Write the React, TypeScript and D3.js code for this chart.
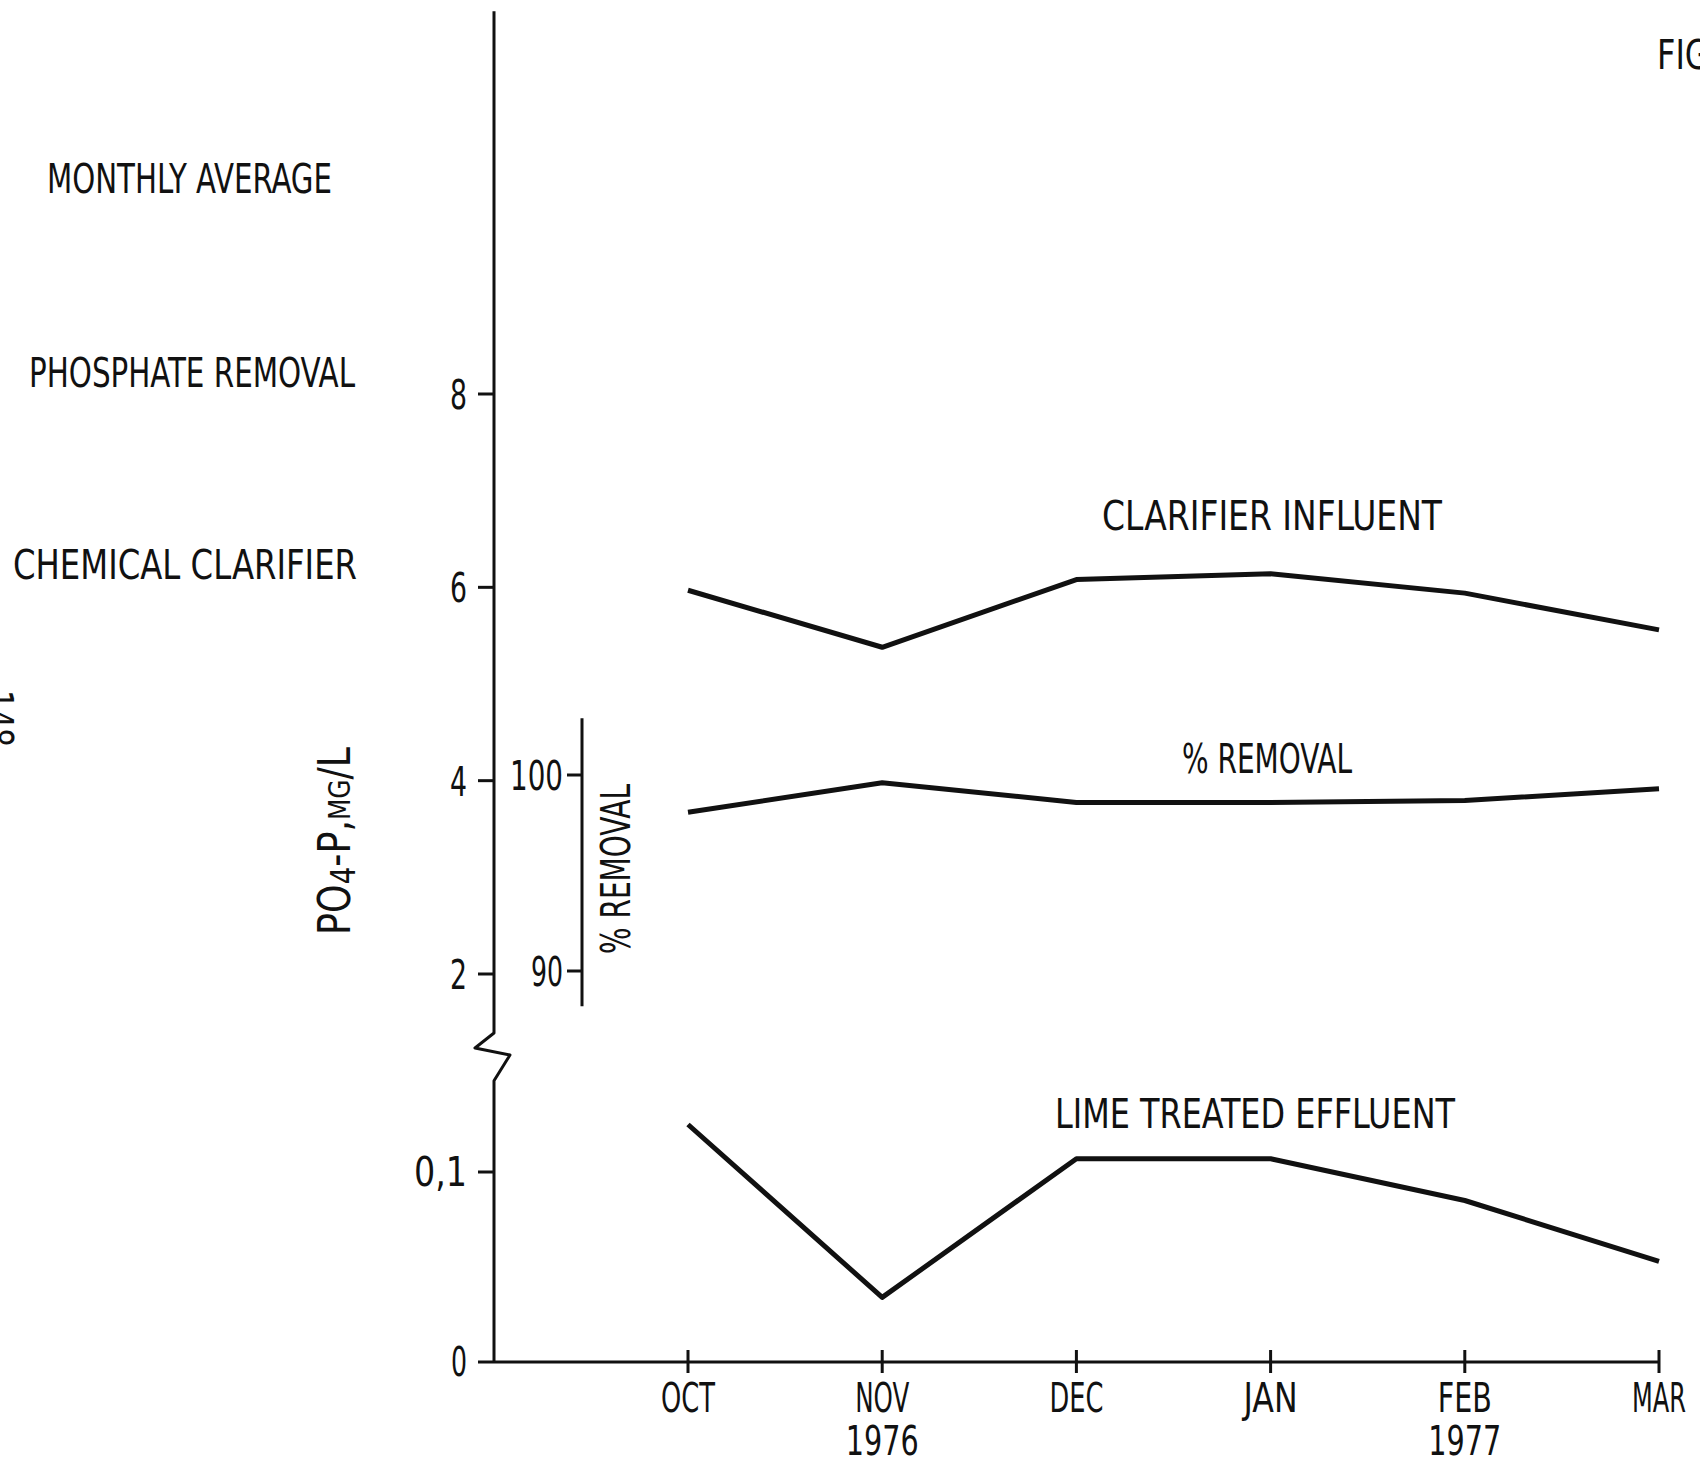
import React from 'react';
import * as d3 from 'd3';

// monthly averages
const months = ['OCT', 'NOV', 'DEC', 'JAN', 'FEB', 'MAR'];
const years = ['', '1976', '', '', '1977', ''];
const influent = [5.97, 5.38, 6.08, 6.14, 5.94, 5.56];
const removal = [98.1, 99.6, 98.6, 98.6, 98.7, 99.3];
const effluent = [0.125, 0.034, 0.107, 0.107, 0.085, 0.053];

const upperTicks = [2, 4, 6, 8];
const pctTicks = [90, 100];
const lowerTicks = [0, 0.1];

const titleLines = ['MONTHLY AVERAGE', 'PHOSPHATE REMOVAL', 'CHEMICAL CLARIFIER'];

const FONT = '"Liberation Sans Narrow", "DejaVu Sans Condensed", "DejaVu Sans", sans-serif';
const INK = '#111';
const PITCH = 19;

const len = (s: string) => s.length * PITCH - 3;

const T: React.FC<{ x: number; y: number; s: string; anchor?: string; w?: number; size?: number; transform?: string }> = ({ x, y, s, anchor = 'start', w, size = 40, transform }) => (
    <text x={x} y={y} textAnchor={anchor} fontSize={size} fontFamily={FONT} fill={INK}
        textLength={w ?? len(s)} lengthAdjust="spacingAndGlyphs" transform={transform}>{s}</text>
);

const App: React.FC = () => {
    const axisX = 494;

    const x = d3.scalePoint<string>().domain(months).range([688, 1659]);
    const yUp = d3.scaleLinear().domain([2, 8]).range([974, 394]);
    const yPct = d3.scaleLinear().domain([90, 100]).range([971, 775]);
    const yLow = d3.scaleLinear().domain([0, 0.1]).range([1362, 1172]);

    const upTop = yUp(11.96);
    const upBottom = yUp(1.39);
    const lowTop = yLow(0.148);
    const pctTop = yPct(102.9);
    const pctBottom = yPct(88.2);
    const pctX = 582;

    const mk = (vals: number[], sc: d3.ScaleLinear<number, number>) =>
        d3.line<number>().x((_, i) => x(months[i])!).y(d => sc(d))(vals) || '';

    // axis with the break zig-zag between upper and lower scale
    const axisPath = d3.line()([
        [axisX, upTop],
        [axisX, upBottom],
        [axisX - 19, upBottom + 15],
        [axisX + 16, upBottom + 22],
        [axisX, lowTop],
        [axisX, yLow(0)],
    ]) || '';

    const fmtLow = (d: number) => (d === 0 ? '0' : String(d).replace('.', ','));

    return (
        <svg width={1700} height={1463} style={{ position: 'absolute', left: 0, top: 0, background: '#fff' }}>
            {/* page titles */}
            {titleLines.map((s, i) => (
                <T key={s} x={[47, 29, 13][i]} y={[193, 387, 579][i]} s={s}
                    w={[285, 326, 344][i]} />
            ))}
            <T x={1657} y={69} s="FIGURE 6" />
            <T x={0} y={0} s="148" w={57} transform="translate(-16,690) rotate(90)" />

            {/* main y axis */}
            <path d={axisPath} fill="none" stroke={INK} strokeWidth={3} strokeLinejoin="round" />
            {upperTicks.map(t => (
                <g key={t}>
                    <line x1={axisX - 16} x2={axisX} y1={yUp(t)} y2={yUp(t)} stroke={INK} strokeWidth={3} />
                    <T x={467} y={yUp(t) + 15} s={String(t)} anchor="end" w={17} />
                </g>
            ))}
            {lowerTicks.map(t => (
                <g key={t}>
                    {t !== 0 && <line x1={axisX - 16} x2={axisX} y1={yLow(t)} y2={yLow(t)} stroke={INK} strokeWidth={3} />}
                    <T x={467} y={yLow(t) + 14} s={fmtLow(t)} anchor="end" w={fmtLow(t).length === 1 ? 16 : 53} />
                </g>
            ))}

            {/* y axis title */}
            <text transform="translate(350,935) rotate(-90)" fontSize={44} fontFamily={FONT} fill={INK}
                textLength={188} lengthAdjust="spacingAndGlyphs">
                PO<tspan fontSize={34} dy={5}>4</tspan><tspan dy={-5}>-P,</tspan><tspan fontSize={30}>MG</tspan>/L
            </text>

            {/* % removal axis */}
            <line x1={pctX} x2={pctX} y1={pctTop} y2={pctBottom} stroke={INK} strokeWidth={3} />
            {pctTicks.map(t => (
                <g key={t}>
                    <line x1={pctX - 15} x2={pctX} y1={yPct(t)} y2={yPct(t)} stroke={INK} strokeWidth={3} />
                    <T x={563} y={yPct(t) + 15} s={String(t)} anchor="end" w={String(t).length === 2 ? 32 : 53} />
                </g>
            ))}
            <T x={0} y={0} s="% REMOVAL" w={170} transform="translate(630,954) rotate(-90)" />

            {/* x axis */}
            <line x1={axisX - 16} x2={x('MAR')!} y1={yLow(0)} y2={yLow(0)} stroke={INK} strokeWidth={3} />
            {months.map((m, i) => (
                <g key={m}>
                    <line x1={x(m)!} x2={x(m)!} y1={yLow(0) - 12} y2={yLow(0) + 11} stroke={INK} strokeWidth={3} />
                    <T x={x(m)!} y={1412} s={m} anchor="middle" />
                    {years[i] && <T x={x(m)!} y={1455} s={years[i]} anchor="middle" />}
                </g>
            ))}

            {/* series */}
            <path d={mk(influent, yUp)} fill="none" stroke={INK} strokeWidth={5} strokeLinejoin="round" />
            <path d={mk(removal, yPct)} fill="none" stroke={INK} strokeWidth={5} strokeLinejoin="round" />
            <path d={mk(effluent, yLow)} fill="none" stroke={INK} strokeWidth={5} strokeLinejoin="round" />

            <T x={1102} y={530} s="CLARIFIER INFLUENT" w={340} />
            <T x={1182} y={773} s="% REMOVAL" w={170} />
            <T x={1055} y={1128} s="LIME TREATED EFFLUENT" w={400} />
        </svg>
    );
};

export default App;
